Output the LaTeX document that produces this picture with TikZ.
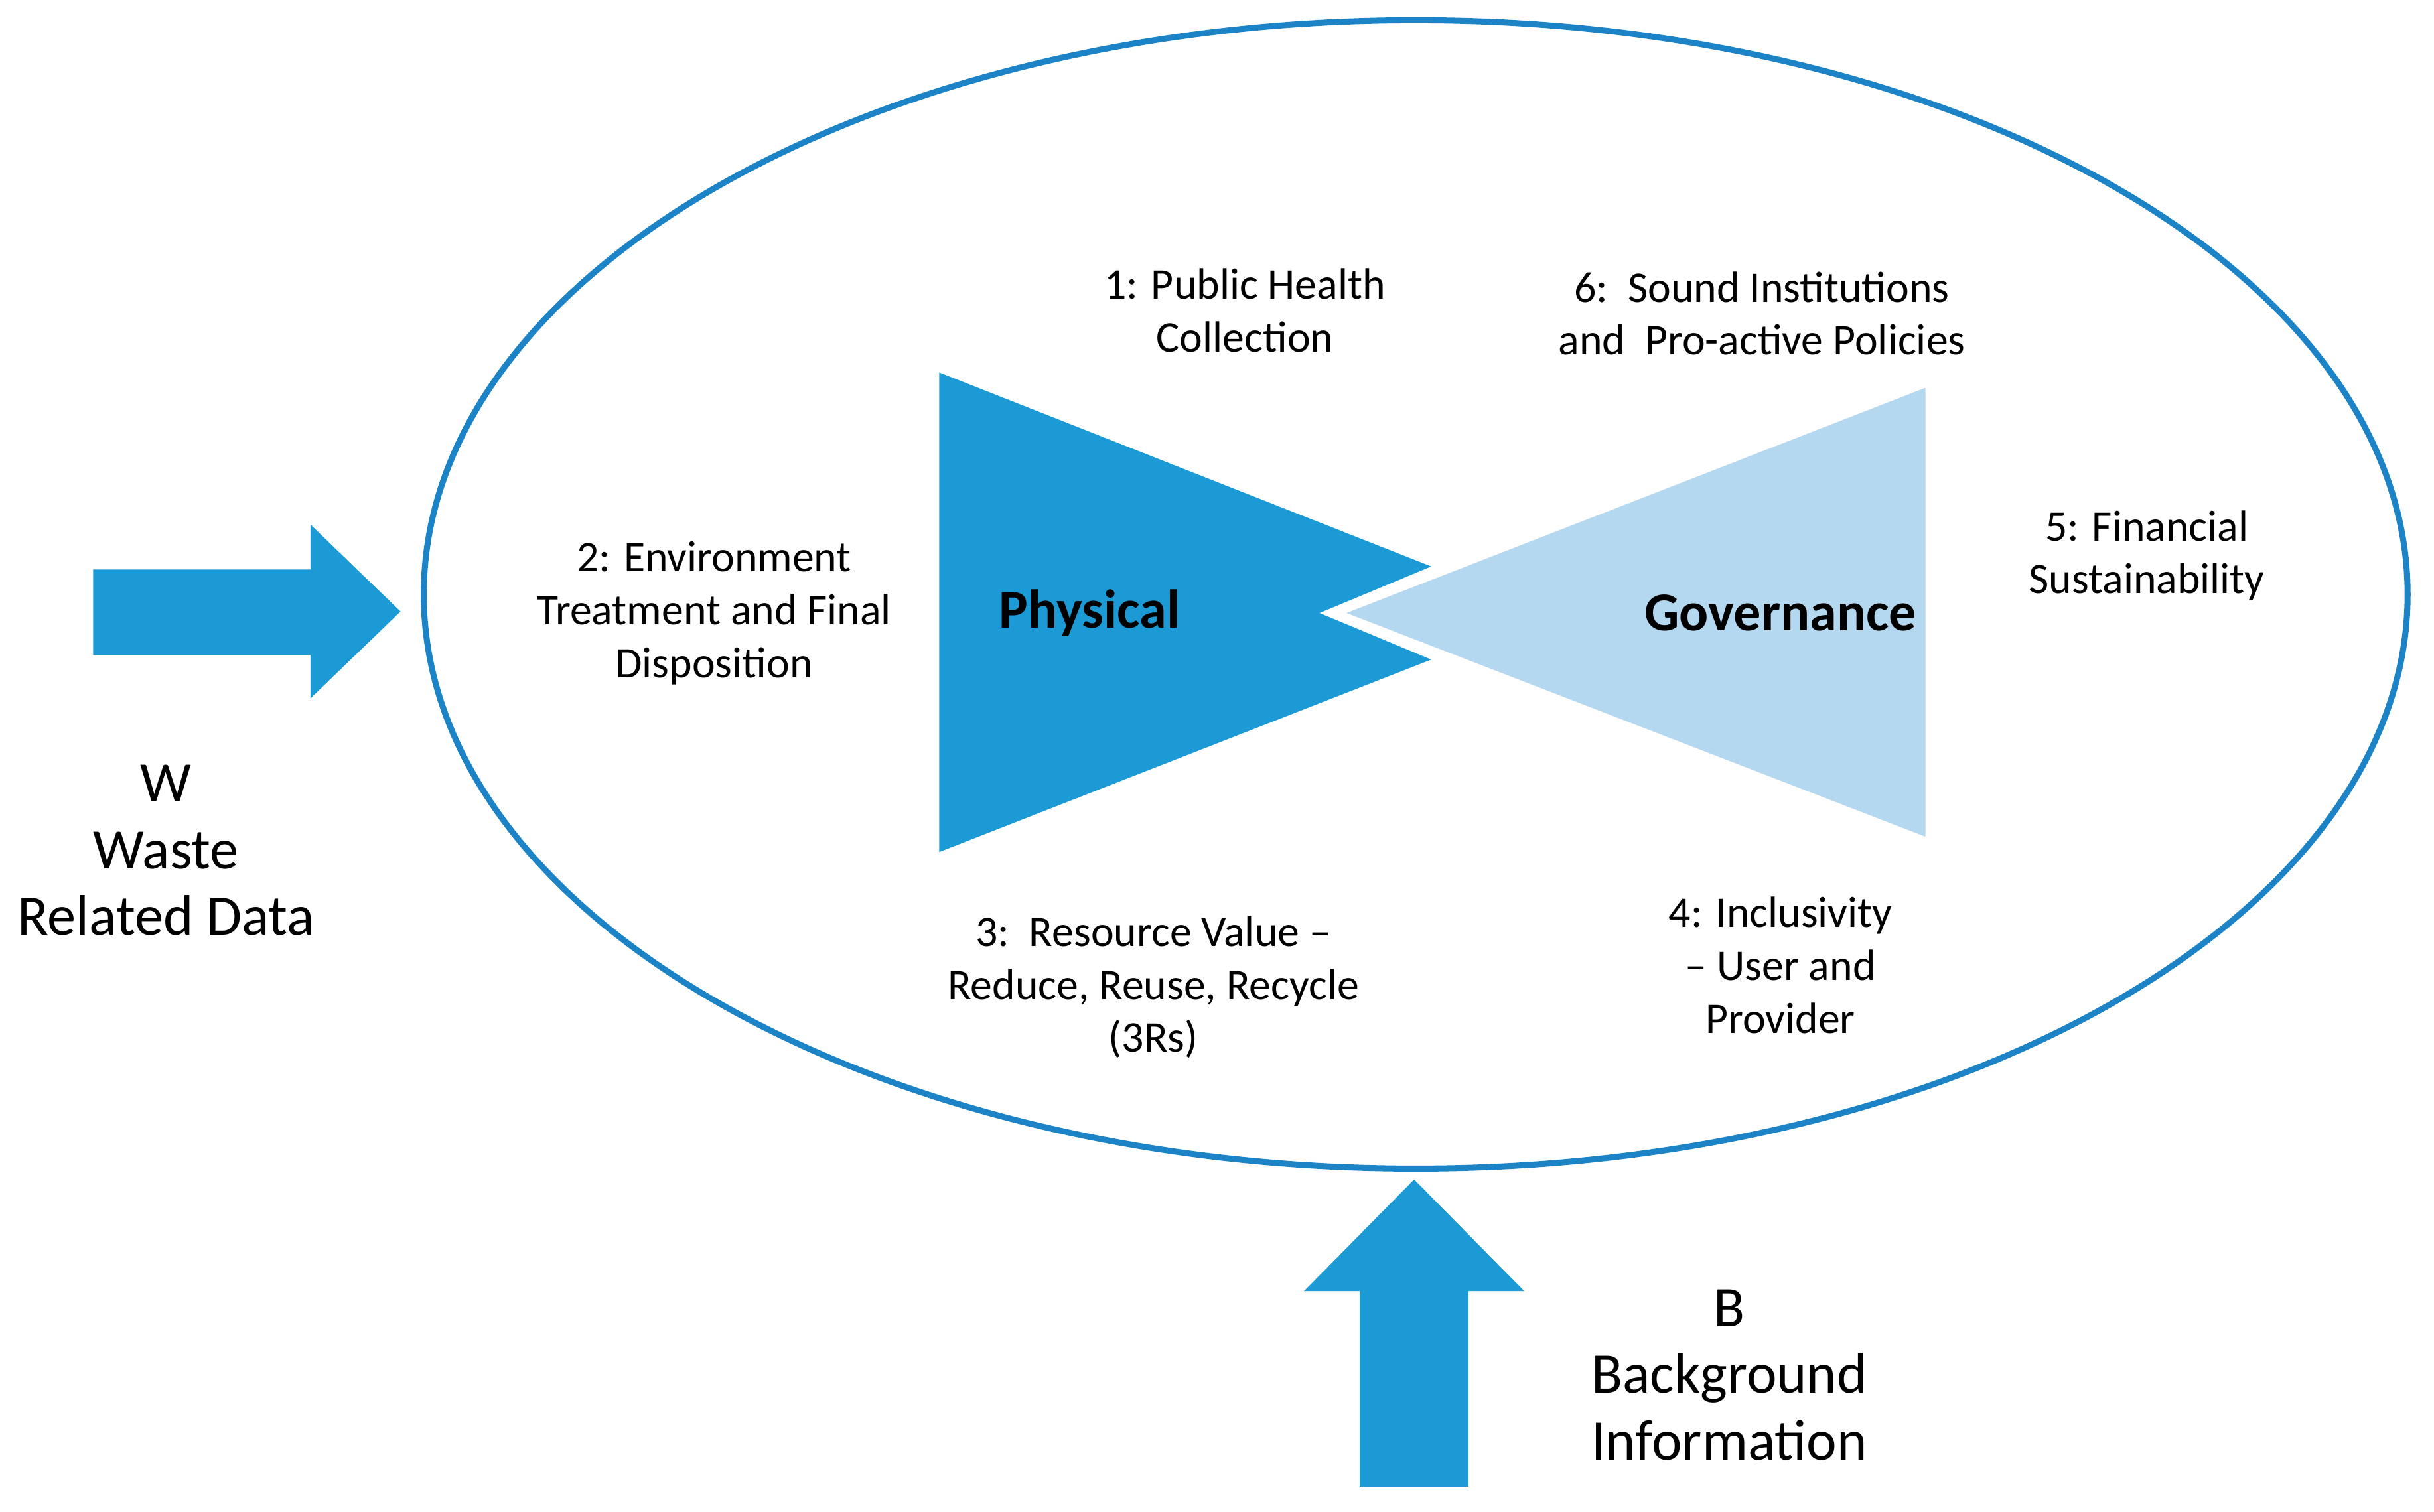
\documentclass[tikz,border=0pt]{standalone}
\usepackage{fontspec}
\setmainfont{Carlito}
\definecolor{dblue}{HTML}{1B9AD6}
\definecolor{lblue}{HTML}{B4D8F0}
\definecolor{eblue}{HTML}{1C84C6}
\begin{document}
\begin{tikzpicture}[x=0.01cm,y=-0.01cm,
 lab/.style={font=\fontsize{8}{9.7}\selectfont,align=center},
 big/.style={font=\fontsize{10.5}{12.2}\selectfont,align=center},
 bold/.style={font=\fontsize{10}{12}\selectfont\bfseries}]
\useasboundingbox (0,0) rectangle (1568,974);
\draw[eblue,line width=1.1pt] (912,383) ellipse [x radius=639,y radius=-370];
\fill[dblue] (605,240) -- (922,365) -- (850,395) -- (922,425) -- (605,549) -- cycle;
\filldraw[fill=lblue,draw=white,line width=1.5pt] (1243,246) -- (860,395) -- (1243,543) -- cycle;
\fill[dblue] (60,367) -- (200,367) -- (200,338) -- (258,394) -- (200,450) -- (200,422) -- (60,422) -- cycle;
\fill[dblue] (876,958) -- (876,832) -- (840,832) -- (911,760) -- (982,832) -- (946,832) -- (946,958) -- cycle;
\node[bold] (ph) at (702,395) {Physical};
\node[bold] (gv) at (1147,395) {Governance};
\node[lab] (l1) at (802,200) {1: Public Health\\Collection};
\node[lab] (l6) at (1135,202) {6:\ \ Sound Institutions\\and\ \ Pro-active Policies};
\node[lab] (l2) at (460,395) {2: Environment\\Treatment and Final\\Disposition};
\node[lab] (l5) at (1383,358) {5: Financial\\Sustainability};
\node[lab] (l3) at (743,636) {3:\ \ Resource Value --\\Reduce, Reuse, Recycle\\(3Rs)};
\node[lab] (l4) at (1147,622) {4: Inclusivity\\-- User and\\Provider};
\node[big] (w) at (107,548) {W\\Waste\\Related Data};
\node[big] (b) at (1114,886) {B\\Background\\Information};
\end{tikzpicture}
\end{document}
